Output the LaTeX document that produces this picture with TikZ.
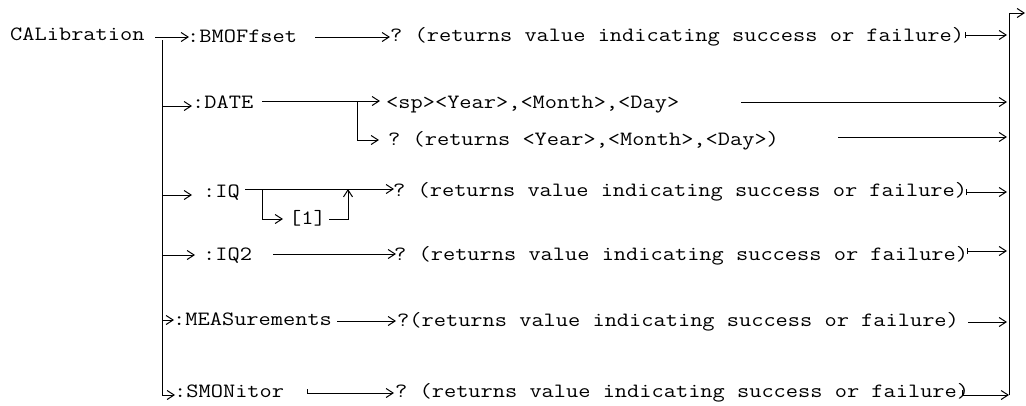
\documentclass[tikz,border=0pt]{standalone}
\usepackage{fontspec}
\setmonofont{Latin Modern Mono}[FakeStretch=1.168]
\usetikzlibrary{arrows.meta}
\begin{document}
\begin{tikzpicture}[x=1pt,y=-1pt,
  lbl/.style={anchor=base west,inner sep=0pt,font=\ttfamily\fontsize{20.3}{24}\selectfont},
  ln/.style={line width=1pt},
  arr/.style={ln,-{Straight Barb[length=7pt,width=9pt]}},
  barr/.style={ln,{Bar[width=6pt]}-{Straight Barb[length=7pt,width=9pt]}}]
\useasboundingbox (0,0) rectangle (1026,405);
% texts
\node[lbl] (cal) at (10,40) {CALibration};
\node[lbl] (bmo) at (187,42) {:BMOFfset};
\node[lbl] (r1) at (390,41) {? (returns value indicating success or failure)};
\node[lbl] (date) at (192,108) {:DATE};
\node[lbl] (sp) at (386,108) {<sp><Year>,<Month>,<Day>};
\node[lbl] (dq) at (388,145) {? (returns <Year>,<Month>,<Day>)};
\node[lbl] (iq) at (203,197) {:IQ};
\node[lbl] (one) at (289,224) {[1]};
\node[lbl] (r3) at (393,196) {? (returns value indicating success or failure)};
\node[lbl] (iq2) at (203,260) {:IQ2};
\node[lbl] (r4) at (394,260) {? (returns value indicating success or failure)};
\node[lbl] (meas) at (173,325) {:MEASurements};
\node[lbl] (r5) at (397,326) {?(returns value indicating success or failure)};
\node[lbl] (smon) at (174,397) {:SMONitor};
\node[lbl] (r6) at (395,397) {? (returns value indicating success or failure)};
% coordinates
\coordinate (vtop) at (162,40);
\coordinate (vbot) at (162,395);
\coordinate (a1s) at (155,37);  \coordinate (a1e) at (189,37);
\coordinate (b1s) at (315,37);  \coordinate (b1e) at (390,37);
\coordinate (c1s) at (965,35);  \coordinate (c1e) at (1007,35);
\coordinate (a2s) at (162,106); \coordinate (a2e) at (192,106);
\coordinate (b2s) at (262,101); \coordinate (b2e) at (380,101);
\coordinate (k2)  at (357,101); \coordinate (k2b) at (357,140); \coordinate (k2e) at (379,140);
\coordinate (c2s) at (741,102); \coordinate (c2e) at (1007,102);
\coordinate (d2s) at (838,137); \coordinate (d2e) at (1007,137);
\coordinate (a3s) at (162,195); \coordinate (a3e) at (192,195);
\coordinate (b3s) at (245,189); \coordinate (b3e) at (394,189);
\coordinate (k3)  at (262,189); \coordinate (k3b) at (262,219); \coordinate (k3e) at (283,219);
\coordinate (m3s) at (329,219); \coordinate (m3b) at (348,219); \coordinate (m3e) at (348,189);
\coordinate (c3s) at (966,192); \coordinate (c3e) at (1007,192);
\coordinate (a4s) at (162,255); \coordinate (a4e) at (195,255);
\coordinate (b4s) at (273,254); \coordinate (b4e) at (396,254);
\coordinate (c4s) at (967,251); \coordinate (c4e) at (1007,251);
\coordinate (a5s) at (162,320); \coordinate (a5e) at (174,320);
\coordinate (b5s) at (337,321); \coordinate (b5e) at (396,321);
\coordinate (c5s) at (968,322); \coordinate (c5e) at (1007,322);
\coordinate (a6e) at (175,395);
\coordinate (b6t) at (307,389); \coordinate (b6s) at (307,393); \coordinate (b6e) at (394,393);
\coordinate (c6t) at (962,390); \coordinate (c6s) at (962,395);
\coordinate (rbot) at (1009,395); \coordinate (rtop) at (1009,13); \coordinate (rout) at (1025,13);
% connectors
\draw[ln] (vtop) -- (vbot);
\draw[arr] (a1s) -- (a1e);
\draw[arr] (b1s) -- (b1e);
\draw[barr] (c1s) -- (c1e);
\draw[arr] (a2s) -- (a2e);
\draw[arr] (b2s) -- (b2e);
\draw[arr] (k2) -- (k2b) -- (k2e);
\draw[arr] (c2s) -- (c2e);
\draw[arr] (d2s) -- (d2e);
\draw[arr] (a3s) -- (a3e);
\draw[arr] (b3s) -- (b3e);
\draw[arr] (k3) -- (k3b) -- (k3e);
\draw[arr] (m3s) -- (m3b) -- (m3e);
\draw[barr] (c3s) -- (c3e);
\draw[arr] (a4s) -- (a4e);
\draw[arr] (b4s) -- (b4e);
\draw[barr] (c4s) -- (c4e);
\draw[arr] (a5s) -- (a5e);
\draw[arr] (b5s) -- (b5e);
\draw[arr] (c5s) -- (c5e);
\draw[arr] (vbot) -- (a6e);
\draw[arr] (b6t) -- (b6s) -- (b6e);
\draw[arr] (c6t) -- (c6s) -- (rbot);
\draw[arr] (rbot) -- (rtop) -- (rout);
\end{tikzpicture}
\end{document}
